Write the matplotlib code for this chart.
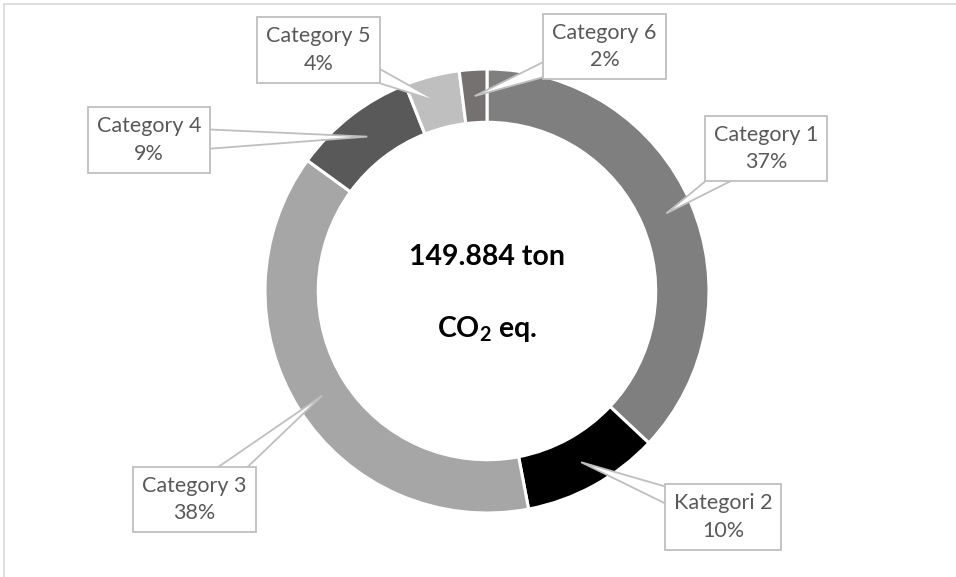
import matplotlib.pyplot as plt
from matplotlib.patches import Polygon
import numpy as np

plt.rcParams['font.family'] = ['Lato', 'DejaVu Sans']
plt.rcParams['mathtext.default'] = 'regular'

# data
labels = ['Category 1', 'Kategori 2', 'Category 3', 'Category 4', 'Category 5', 'Category 6']
shares = [37, 10, 38, 9, 4, 2]
colors = ['#7f7f7f', '#000000', '#a6a6a6', '#595959', '#bfbfbf', '#767171']
total_text = '149.884 ton'
unit_text = 'CO$_2$ eq.'

# where the callout boxes sit (data units, pie radius = 1)
box_pos = [(1.257, 0.642), (1.063, -1.018), (-1.318, -0.939),
           (-1.523, 0.680), (-0.759, 1.086), (0.529, 1.101)]

fig = plt.figure(figsize=(9.56, 5.77), dpi=100)
ax = fig.add_axes([0, 0, 1, 1])

# light frame, only top and left are visible in the crop
fig.add_artist(plt.Line2D([4 / 956, 4 / 956], [0, 1 - 4 / 577], transform=fig.transFigure,
                          color='#d9d9d9', lw=1.2))
fig.add_artist(plt.Line2D([4 / 956, 1], [1 - 4 / 577, 1 - 4 / 577], transform=fig.transFigure,
                          color='#d9d9d9', lw=1.2))

ring = 0.24
wedges, _ = ax.pie(shares, colors=colors, startangle=90, counterclock=False,
                   radius=1, wedgeprops=dict(width=ring, edgecolor='white', linewidth=2.2))

# callouts: box with a wedge pointing into the ring
cum = np.cumsum([0] + shares[:-1])
r_tip = 1 - ring / 2
half_base = 0.06
for lab, v, c0, pos in zip(labels, shares, cum, box_pos):
    ang = np.deg2rad(90 - 360 * (c0 + v / 2) / 100)
    tip = np.array([r_tip * np.cos(ang), r_tip * np.sin(ang)])
    base = np.array(pos)
    d = tip - base
    n = np.array([-d[1], d[0]]) / np.hypot(*d)
    ax.add_patch(Polygon([base + n * half_base, tip, base - n * half_base], closed=True,
                         fc='white', ec='#bfbfbf', lw=1.3, zorder=5))
    ax.text(pos[0], pos[1], f'{lab}\n{v}%', ha='center', va='center',
            fontsize=15.5, color='#595959', linespacing=1.45, zorder=6,
            bbox=dict(boxstyle='square,pad=0.42', fc='white', ec='#bfbfbf', lw=1.3))

ax.text(0, 0.155, total_text, ha='center', va='center', fontsize=20.5,
        fontweight='bold', color='black')
ax.text(0, -0.17, unit_text, ha='center', va='center', fontsize=20.5,
        fontweight='bold', color='black')

cx, cy, R = 487, 291, 222
ax.set_xlim(-cx / R, (956 - cx) / R)
ax.set_ylim(-(577 - cy) / R, cy / R)
ax.set_aspect('equal')
ax.axis('off')

fig.savefig('out.png', dpi=100)
